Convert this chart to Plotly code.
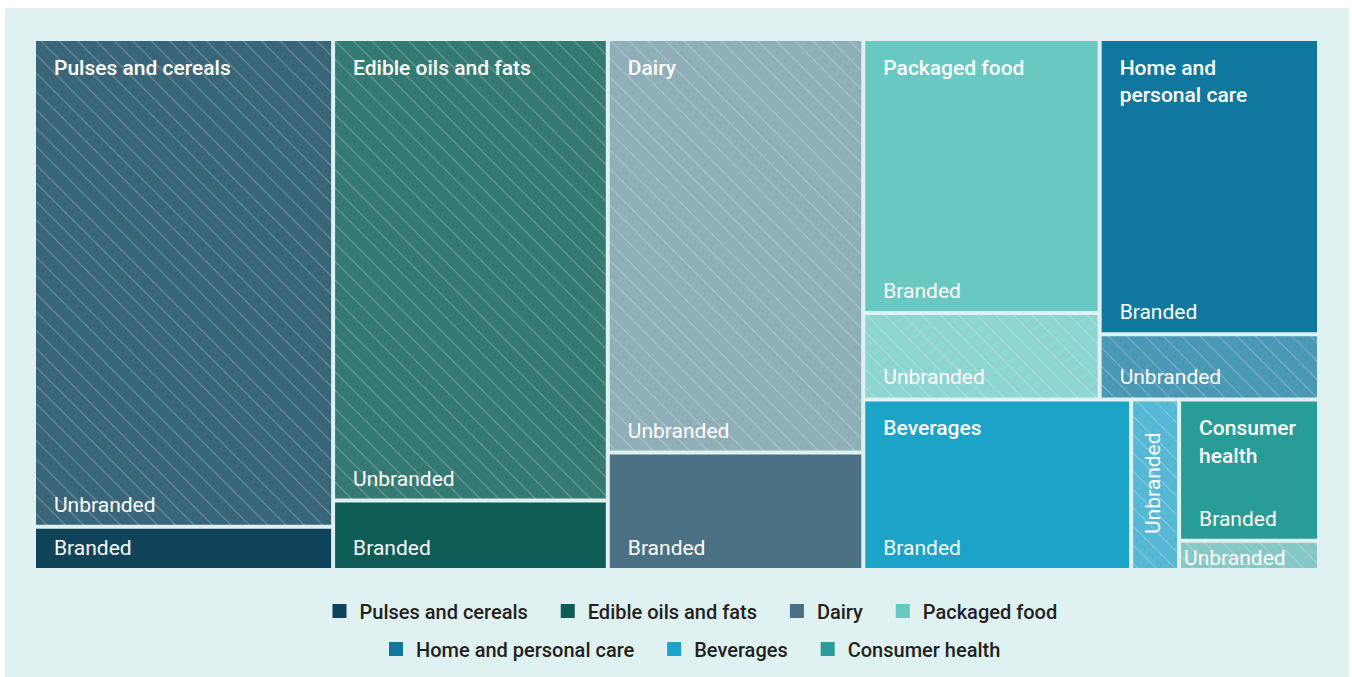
import plotly.graph_objects as go

# ---------------- data ----------------
categories = ["Pulses and cereals", "Edible oils and fats", "Dairy", "Packaged food",
              "Home and personal care", "Beverages", "Consumer health"]
header_labels = ["Pulses and cereals", "Edible oils and fats", "Dairy", "Packaged food",
                 "Home and<br>personal care", "Beverages", "Consumer<br>health"]
branded = [1.9, 2.8, 4.4, 9.5, 9.5, 6.7, 2.9]
unbranded = [21.4, 18.6, 15.5, 3.0, 2.1, 1.2, 0.6]
segment_names = ["Branded", "Unbranded"]
legend_rows = [0, 0, 0, 0, 1, 1, 1]

# grouping used only to arrange the tiles (layout blocks)
top_level = ["Pulses and cereals", "Edible oils and fats", "Dairy", "Right block"]
sub_groups = {"Right block": ["Top row", "Bottom row"],
              "Top row": ["Packaged food", "Home and personal care"],
              "Bottom row": ["Beverages", "Consumer health"]}

# ---------------- styles ----------------
brand_colors = ["#0e435a", "#0d5c55", "#4a7183", "#6ac8c3", "#10789e", "#1da2c8", "#289c97"]
unbrand_colors = ["#386577", "#347a72", "#8eafb8", "#8dd5d0", "#4a97b6", "#56b8d4", "#85c8c5"]
BG = "#dff1f0"
CLEAR = "rgba(0,0,0,0)"
FONT = "Roboto"
LABEL_SIZE = 21

W, H = 1352, 677
ML, MR, MT, MB = 36, 18, 30, 85
PW, PH = W - ML - MR, H - MT - MB
TM_L, TM_R, TM_T, TM_B = 36, 1317, 41, 568

# ---------------- hierarchy ----------------
ids, parents, labels, values = [], [], [], []
fill, shapes, txt_top, txt_bottom, txt_inner = [], [], [], [], []


def add(i, p, lab, v, c, s, tt, tb, ti):
    ids.append(i); parents.append(p); labels.append(lab); values.append(v)
    fill.append(c); shapes.append(s); txt_top.append(tt); txt_bottom.append(tb)
    txt_inner.append(ti)


def parent_of(name):
    for g, kids in sub_groups.items():
        if name in kids:
            return g
    return ""


def add_group(name):
    add(name, parent_of(name), name, 0, CLEAR, "", "", "", "")
    for kid in sub_groups.get(name, []):
        add_group(kid)


for g in top_level:
    add_group(g)

for k, cat in enumerate(categories):
    segs = [(branded[k], segment_names[0], brand_colors[k], ""),
            (unbranded[k], segment_names[1], unbrand_colors[k], "\\")]
    segs.sort(key=lambda s: -s[0])
    for j, (v, nm, col, shp) in enumerate(segs):
        top_text = header_labels[k] if j == 0 else ""
        bottom_text, inner_text = nm, ""
        if cat == "Beverages" and nm == "Unbranded":
            bottom_text = ""  # drawn rotated below
        if cat == "Consumer health" and nm == "Unbranded":
            bottom_text, inner_text = "", nm  # very short tile: text fills it
        add(cat + "|" + nm, cat, nm, v, col, shp, top_text, bottom_text, inner_text)


def dom_x(px0, px1):
    return [(px0 - ML) / PW, (px1 - ML) / PW]


def dom_y(px_top, px_bot):
    return [(MT + PH - px_bot) / PH, (MT + PH - px_top) / PH]


def tm(colors, pats, texts, pos, weight, dx, dy, hover):
    return go.Treemap(
        ids=ids, parents=parents, labels=labels, values=values,
        branchvalues="remainder", sort=False,
        tiling=dict(packing="binary", pad=4),
        marker=dict(colors=colors, line=dict(width=0), pad=dict(t=0, l=0, r=0, b=0),
                    pattern=dict(shape=pats, fgcolor="white", fgopacity=0.28,
                                 size=13, solidity=0.09, fillmode="overlay")),
        texttemplate=texts, textinfo="none", textposition=pos,
        textfont=dict(family=FONT, size=LABEL_SIZE, color="white", weight=weight),
        pathbar=dict(visible=False), root=dict(color=CLEAR),
        domain=dict(x=dom_x(TM_L + dx, TM_R + dx), y=dom_y(TM_T + dy, TM_B + dy)),
        hoverinfo="label+value" if hover else "skip",
    )


fig = go.Figure()
# filled tiles
fig.add_trace(tm(fill, shapes, txt_inner, "top left", 400, 0, 0, True))
# category names (top-left of first tile)
fig.add_trace(tm([CLEAR] * len(ids), [""] * len(ids), txt_top, "top left", 500, 15, 12, False))
# segment names (bottom-left)
fig.add_trace(tm([CLEAR] * len(ids), [""] * len(ids), txt_bottom, "bottom left", 400, 15, -5, False))

# legend entries (two centred rows)
for k, cat in enumerate(categories):
    row = legend_rows[k]
    last_in_row = (k == len(categories) - 1) or legend_rows[k + 1] != row
    fig.add_trace(go.Scatter(
        x=[None], y=[None], mode="markers",
        name=cat + ("" if last_in_row else "\u00a0\u00a0\u00a0"),
        marker=dict(symbol="square", size=14, color=brand_colors[k], line=dict(width=0)),
        legend="legend" if row == 0 else "legend2", hoverinfo="skip"))

# rotated label for the thin beverages-unbranded tile, placed from the data
T = sum(branded) + sum(unbranded)
tot = [b + u for b, u in zip(branded, unbranded)]
left_share = sum(tot[:3]) / T
right_share = sum(tot[3:]) / T
bottom_total = tot[5] + tot[6]
fx = left_share + right_share * (branded[5] + unbranded[5] / 2) / bottom_total
fy = (bottom_total / sum(tot[3:])) / 2
ax = dom_x(TM_L, TM_R)
ay = dom_y(TM_T, TM_B)
fig.add_annotation(x=ax[0] + (ax[1] - ax[0]) * fx, y=ay[0] + (ay[1] - ay[0]) * fy,
                   xref="paper", yref="paper", text="Unbranded", textangle=-90,
                   showarrow=False, xanchor="center", yanchor="middle",
                   font=dict(family=FONT, size=LABEL_SIZE, color="white"))

# background panel
fig.add_shape(type="rect", xref="paper", yref="paper", layer="below",
              x0=(5 - ML) / PW, x1=(1349 - ML) / PW,
              y0=(MT + PH - 677) / PH, y1=(MT + PH - 8) / PH,
              fillcolor=BG, line=dict(width=0))

legend_common = dict(orientation="h", xanchor="center", yanchor="middle",
                     xref="container", yref="container",
                     x=691 / W, bgcolor=CLEAR,
                     font=dict(family=FONT, size=20, color="#231f20", weight=500))
fig.update_layout(
    width=W, height=H,
    margin=dict(l=ML, r=MR, t=MT, b=MB, autoexpand=False),
    paper_bgcolor="white", plot_bgcolor=CLEAR,
    xaxis=dict(visible=False), yaxis=dict(visible=False),
    uniformtext=dict(minsize=LABEL_SIZE, mode="show"),
    legend=dict(**legend_common, y=1 - 611 / H),
    legend2=dict(**legend_common, y=1 - 649 / H),
    showlegend=True,
)

fig.write_html("out.html")
